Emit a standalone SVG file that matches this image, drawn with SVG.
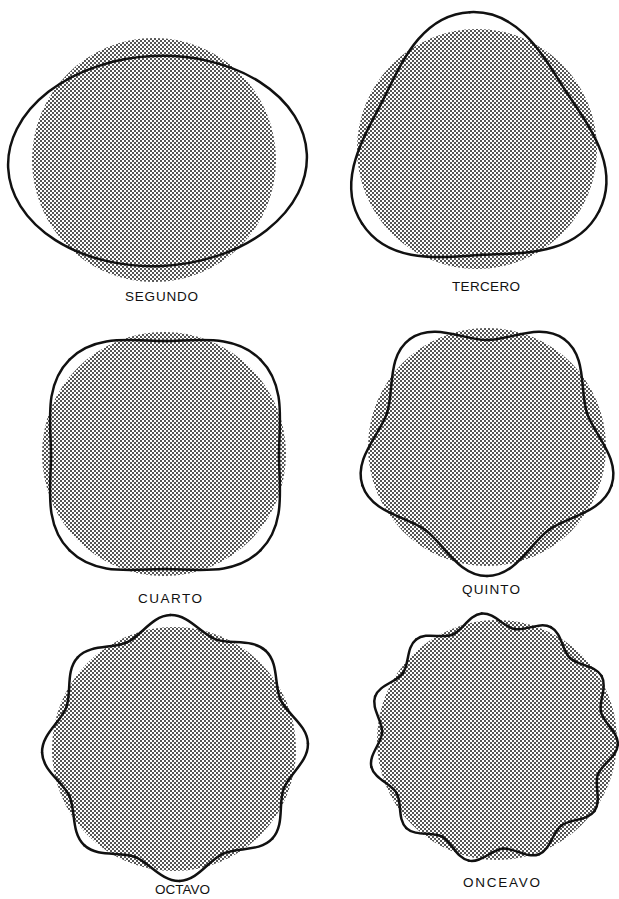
<svg xmlns="http://www.w3.org/2000/svg" width="619" height="899" viewBox="0 0 619 899">
<style>
.disc { fill: url(#dots); }
.ol { fill: none; stroke: #111; stroke-width: 2.5; stroke-linecap: round; stroke-linejoin: round; }
.lbl { font-family: "Liberation Sans", Arial, sans-serif; font-size: 13.5px; fill: #111; }
</style>
<defs>
<pattern id="dots" width="4" height="4" patternUnits="userSpaceOnUse">
<rect width="2" height="2" fill="#555"/>
<rect x="2" y="2" width="2" height="2" fill="#555"/>
</pattern>
<path id="h3" d="M137,0 C137,50.2 86.7,72.35 53,91.8"/>
<g id="p3"><use href="#h3"/><use href="#h3" transform="scale(1,-1)"/></g>
<path id="h4" d="M135,0 C135,37.1 102.7,58.5 80.6,80.6"/>
<g id="p4"><use href="#h4"/><use href="#h4" transform="scale(1,-1)"/></g>
<path id="h5" d="M131,0 C131,28.8 98.5,43 84.9,61.7"/>
<g id="p5"><use href="#h5"/><use href="#h5" transform="scale(1,-1)"/></g>
<path id="h8" d="M133,0 C133,18.3 113.3,29.7 107.2,44.4"/>
<g id="p8"><use href="#h8"/><use href="#h8" transform="scale(1,-1)"/></g>
<path id="h11" d="M125,0 C125,12.5 109.6,20.65 106.5,31.3"/>
<g id="p11"><use href="#h11"/><use href="#h11" transform="scale(1,-1)"/></g>
</defs>
<rect width="619" height="899" fill="#fff"/>

<g id="segundo">
<circle class="disc" cx="154" cy="160" r="122"/>
<ellipse class="ol" cx="157.5" cy="161" rx="149.5" ry="105" transform="rotate(-2.7 157.5 161)"/>
<text class="lbl" x="125" y="301" textLength="73" lengthAdjust="spacing">SEGUNDO</text>
</g>

<g id="tercero">
<circle class="disc" cx="477" cy="149" r="120"/>
<g class="ol" transform="translate(477,149)">
<use href="#p3" transform="rotate(-93)"/>
<use href="#p3" transform="rotate(27)"/>
<use href="#p3" transform="rotate(147)"/>
</g>
<text class="lbl" x="452" y="291" textLength="68" lengthAdjust="spacing">TERCERO</text>
</g>

<g id="cuarto">
<circle class="disc" cx="164" cy="454" r="122"/>
<g class="ol" transform="translate(165,455)">
<use href="#p4" transform="rotate(45)"/>
<use href="#p4" transform="rotate(135)"/>
<use href="#p4" transform="rotate(225)"/>
<use href="#p4" transform="rotate(315)"/>
</g>
<text class="lbl" x="138" y="603" textLength="64" lengthAdjust="spacing">CUARTO</text>
</g>

<g id="quinto">
<circle class="disc" cx="487" cy="447" r="119"/>
<g class="ol" transform="translate(487,445)">
<use href="#p5" transform="rotate(90)"/>
<use href="#p5" transform="rotate(162)"/>
<use href="#p5" transform="rotate(234)"/>
<use href="#p5" transform="rotate(306)"/>
<use href="#p5" transform="rotate(18)"/>
</g>
<text class="lbl" x="462" y="594" textLength="58" lengthAdjust="spacing">QUINTO</text>
</g>

<g id="octavo">
<circle class="disc" cx="174" cy="749" r="122"/>
<g class="ol" transform="translate(175,748)">
<use href="#p8" transform="rotate(-2)"/>
<use href="#p8" transform="rotate(43)"/>
<use href="#p8" transform="rotate(88)"/>
<use href="#p8" transform="rotate(133)"/>
<use href="#p8" transform="rotate(178)"/>
<use href="#p8" transform="rotate(223)"/>
<use href="#p8" transform="rotate(268)"/>
<use href="#p8" transform="rotate(313)"/>
</g>
<text class="lbl" x="155" y="894" textLength="55" lengthAdjust="spacing">OCTAVO</text>
</g>

<g id="onceavo">
<circle class="disc" cx="497" cy="740" r="120"/>
<g class="ol" transform="translate(493,738)">
<use href="#p11" transform="rotate(-95.2)"/>
<use href="#p11" transform="rotate(-62.47)"/>
<use href="#p11" transform="rotate(-29.75)"/>
<use href="#p11" transform="rotate(2.98)"/>
<use href="#p11" transform="rotate(35.71)"/>
<use href="#p11" transform="rotate(68.44)"/>
<use href="#p11" transform="rotate(101.16)"/>
<use href="#p11" transform="rotate(133.89)"/>
<use href="#p11" transform="rotate(166.62)"/>
<use href="#p11" transform="rotate(199.35)"/>
<use href="#p11" transform="rotate(232.07)"/>
</g>
<text class="lbl" x="463" y="887" textLength="77" lengthAdjust="spacing">ONCEAVO</text>
</g>
</svg>
